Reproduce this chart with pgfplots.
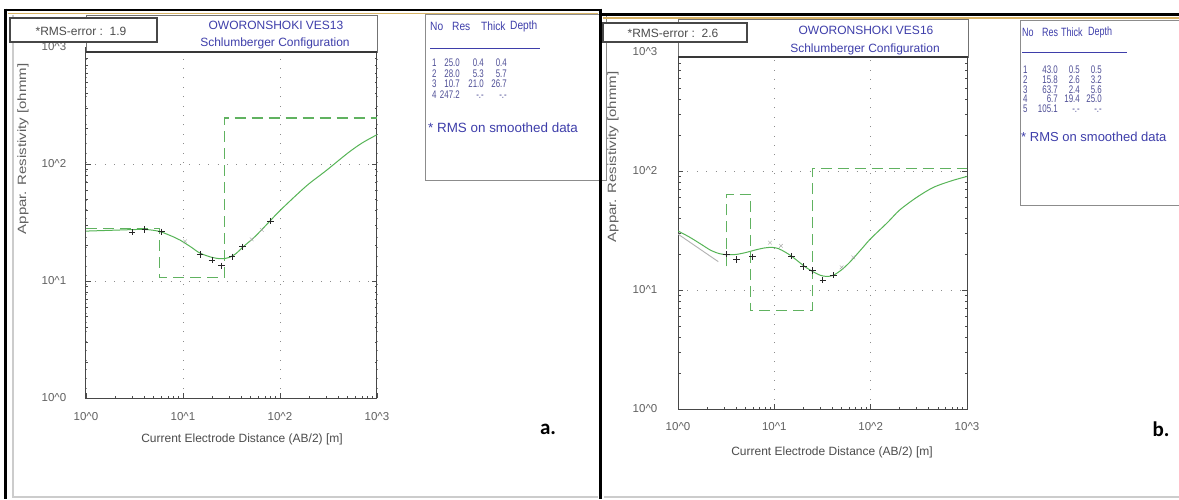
\documentclass[border=0pt]{standalone}
\usepackage{pgfplots}
\pgfplotsset{compat=1.18}
\usepackage{fontspec}
\setmainfont{Liberation Sans}
\newfontfamily\carl{Carlito}
\definecolor{cgreen}{RGB}{86,180,86}
\definecolor{mgreen}{RGB}{96,178,96}
\definecolor{tblue}{RGB}{62,62,170}
\definecolor{tabblue}{RGB}{78,78,150}
\definecolor{gold}{RGB}{215,178,100}
\newcommand{\fs}[1]{\fontsize{#1}{#1}\selectfont}
\newcommand{\tc}[1]{\scalebox{0.72}[1]{#1}}
\newcommand{\tha}[1]{\scalebox{0.85}[1]{#1}}
\newcommand{\thb}[1]{\scalebox{0.75}[1]{#1}}
\begin{document}
\begin{tikzpicture}
\path[use as bounding box, fill=white] (0pt,0pt) rectangle (1179pt,499pt);

% ---------------- panel a ----------------
\begin{axis}[
    anchor=south west, at={(86pt,101pt)}, scale only axis, width=291pt, height=351pt,
    xmode=log, ymode=log, xmin=1, xmax=1000, ymin=1, ymax=1000,
    xtick={1,10,100,1000}, ytick={1,10,100,1000},
    xticklabels={10\textasciicircum0,10\textasciicircum1,10\textasciicircum2,10\textasciicircum3},
    yticklabels={10\textasciicircum0,10\textasciicircum1,10\textasciicircum2,10\textasciicircum3},
    /pgf/number format/assume math mode=true,
    tick align=inside,
    major tick length=5pt, minor tick length=2.5pt,
    axis line style={draw=black!72, line width=1pt},
    tick style={black!70, line width=0.6pt},
    grid=major,
    major grid style={draw=black!45, line width=0.8pt, dash pattern=on 0.9pt off 8.5pt},
    tick label style={font=\fs{11.5}, text=black!62},
    xticklabel style={anchor=center, yshift=-19pt},
    yticklabel style={anchor=center, xshift=-32pt}]
\addplot[mgreen, line width=1.1pt, dash pattern=on 11pt off 6pt] coordinates
  {(1,28) (5.7,28) (5.7,10.7) (26.7,10.7) (26.7,247.2) (1000,247.2)};
\addplot[cgreen, line width=1pt, smooth] coordinates
  {(1,26.7) (2,27.2) (3,27.5) (4,27.6) (5,27.1) (6,26.2) (8,23.8) (9.3,22.4)
   (12,19.6) (15,17.3) (20,15.9) (25,15.5) (30,15.9) (35,17.1) (42,19.7)
   (53,23.2) (65,27.5) (80,33) (100,40) (150,55) (200,68) (300,88)
   (500,124) (700,151) (1000,178)};
\addplot[only marks, mark=x, mark size=2.6pt, black!35] coordinates
  {(10.5,21.8) (51,22.7) (65,27.3)};
\addplot[only marks, mark=+, mark size=3.2pt, black!85, line width=0.9pt] coordinates
  {(3.0,26.1) (4.05,27.6) (6.0,26.3) (15,16.9) (20,15.1) (25,13.5) (32,16.1) (41,19.6) (80,32.6)};
\end{axis}

% ---------------- panel b ----------------
\begin{axis}[
    anchor=south west, at={(678pt,90pt)}, scale only axis, width=289pt, height=357pt,
    xmode=log, ymode=log, xmin=1, xmax=1000, ymin=1, ymax=1000,
    xtick={1,10,100,1000}, ytick={1,10,100,1000},
    xticklabels={10\textasciicircum0,10\textasciicircum1,10\textasciicircum2,10\textasciicircum3},
    yticklabels={10\textasciicircum0,10\textasciicircum1,10\textasciicircum2,10\textasciicircum3},
    /pgf/number format/assume math mode=true,
    tick align=inside,
    major tick length=5pt, minor tick length=2.5pt,
    axis line style={draw=black!72, line width=1pt},
    tick style={black!70, line width=0.6pt},
    grid=major,
    major grid style={draw=black!45, line width=0.8pt, dash pattern=on 0.9pt off 8.5pt},
    tick label style={font=\fs{11.5}, text=black!62},
    xticklabel style={anchor=center, yshift=-18pt},
    yticklabel style={anchor=center, xshift=-33pt}]
\addplot[mgreen, line width=1.1pt, dash pattern=on 11pt off 6pt] coordinates
  {(3.2,15.8) (3.2,63.7) (5.6,63.7) (5.6,6.7) (25,6.7) (25,105.1) (1000,105.1)};
\addplot[black!30, line width=0.9pt] coordinates
  {(1,29.5) (2.62,17.3)};
\addplot[cgreen, line width=1pt, smooth] coordinates
  {(1,31.3) (1.3,28) (1.7,24.5) (2.2,21.5) (2.7,20.2) (3.2,19.8) (4,19.9)
   (5,20.6) (6.5,21.8) (8,22.6) (9.5,22.8) (11,22.3) (13,20.8) (15,19.3)
   (18,17.2) (21,15.6) (25,14.3) (30,13.3) (35,13.0) (41,13.3) (50,14.8)
   (61,17.2) (80,22) (100,27) (150,37) (200,47) (300,60) (450,73) (700,83) (1000,90)};
\addplot[only marks, mark=x, mark size=2.6pt, black!35] coordinates
  {(9.0,25.0) (11.7,23.5) (50,15.5) (66,18.8)};
\addplot[only marks, mark=+, mark size=3.2pt, black!85, line width=0.9pt] coordinates
  {(3.2,20) (4.05,18.1) (5.95,19.0) (15,19.3) (20,15.7) (25,14.6) (31.8,12.1) (41,13.3)};
\end{axis}

% ---------------- decorations (pixel coordinates, y down) ----------------
\begin{scope}[x=1pt, y=-1pt, shift={(0pt,499pt)}]
  \draw[black!20, line width=1.5pt] (13,15) -- (13,497) -- (598,497);
  \draw[black!20, line width=1.5pt] (604,497) -- (1179,497);
  % panel a title & RMS
  \draw[black!55, line width=0.8pt, fill=white] (86,15) rectangle (377,52);
  \draw[black!78, line width=1.3pt] (86,52) -- (377,52);
  \node[text=tblue, font=\fs{12}] at (276,25) {OWORONSHOKI VES13};
  \node[text=tblue, font=\fs{12}] at (275,43) {Schlumberger Configuration};
  \draw[black!72, line width=1.3pt, fill=white] (10,18) rectangle (157,42);
  \node[text=black!70, font=\fs{12}] at (81,31) {*RMS-error :\ \ 1.9};
  \node[rotate=90, text=black!62, font=\fs{12}] at (23,149) {\scalebox{1.25}[1]{Appar. Resistivity [ohmm]}};
  \node[text=black!70, font=\fs{12}] at (242,439) {Current Electrode Distance (AB/2) [m]};
  \node[font=\carl\bfseries\fs{21}] at (548,429) {a.};
  % panel a table
  \draw[black!45, line width=0.8pt, fill=white] (425,14) rectangle (606,180);
  \begin{scope}[every node/.style={text=tblue, font=\fs{12}, inner sep=0pt}]
    \node[anchor=west] at (430,26) {\tha{No}};
    \node[anchor=west] at (452,26) {\tha{Res}};
    \node[anchor=west] at (481,26) {\tha{Thick}};
    \node[anchor=west] at (510,26) {\tha{Depth}};
  \end{scope}
  \draw[tblue, line width=0.7pt] (430,48) -- (540,48);
  \begin{scope}[every node/.style={text=tabblue, font=\fs{11}, inner sep=0pt, text height=7.6pt, text depth=0pt}]
    \node[anchor=west] at (432,63) {\tc{1}}; \node[anchor=east] at (460,63) {\tc{25.0}};
    \node[anchor=east] at (484,63) {\tc{0.4}}; \node[anchor=east] at (507,63) {\tc{0.4}};
    \node[anchor=west] at (432,73.5) {\tc{2}}; \node[anchor=east] at (460,73.5) {\tc{28.0}};
    \node[anchor=east] at (484,73.5) {\tc{5.3}}; \node[anchor=east] at (507,73.5) {\tc{5.7}};
    \node[anchor=west] at (432,84) {\tc{3}}; \node[anchor=east] at (460,84) {\tc{10.7}};
    \node[anchor=east] at (484,84) {\tc{21.0}}; \node[anchor=east] at (507,84) {\tc{26.7}};
    \node[anchor=west] at (432,94.5) {\tc{4}}; \node[anchor=east] at (460,94.5) {\tc{247.2}};
    \node[anchor=east] at (484,94.5) {\tc{-.-}}; \node[anchor=east] at (507,94.5) {\tc{-.-}};
  \end{scope}
  \node[anchor=west, text=tblue, font=\fs{13.4}, inner sep=0pt] at (428,128) {* RMS on smoothed data};

  % panel b title & RMS
  \draw[black!55, line width=0.8pt, fill=white] (678,19) rectangle (968,57);
  \draw[black!78, line width=1.3pt] (678,57) -- (968,57);
  \node[text=tblue, font=\fs{12}] at (866,30) {OWORONSHOKI VES16};
  \node[text=tblue, font=\fs{12}] at (865,49) {Schlumberger Configuration};
  \draw[black!72, line width=1.3pt, fill=white] (603,23) rectangle (747,42);
  \node[text=black!70, font=\fs{12}] at (673,33) {*RMS-error :\ \ 2.6};
  \node[rotate=90, text=black!62, font=\fs{12}] at (613,157) {\scalebox{1.25}[1]{Appar. Resistivity [ohmm]}};
  \node[text=black!70, font=\fs{12}] at (832,452) {Current Electrode Distance (AB/2) [m]};
  \node[font=\carl\bfseries\fs{21}] at (1161,429) {b.};
  % panel b table
  \draw[black!45, line width=0.8pt, fill=white] (1020,20) rectangle (1185,205);
  \begin{scope}[every node/.style={text=tblue, font=\fs{12}, inner sep=0pt}]
    \node[anchor=west] at (1022,32) {\thb{No}};
    \node[anchor=west] at (1042,32) {\thb{Res}};
    \node[anchor=west] at (1061,32) {\thb{Thick}};
    \node[anchor=west] at (1088,32) {\thb{Depth}};
  \end{scope}
  \draw[tblue, line width=0.7pt] (1022,52) -- (1127,52);
  \begin{scope}[every node/.style={text=tabblue, font=\fs{11}, inner sep=0pt, text height=7.6pt, text depth=0pt}]
    \node[anchor=west] at (1023,70) {\tc{1}}; \node[anchor=east] at (1058,70) {\tc{43.0}};
    \node[anchor=east] at (1080,70) {\tc{0.5}}; \node[anchor=east] at (1102,70) {\tc{0.5}};
    \node[anchor=west] at (1023,79.7) {\tc{2}}; \node[anchor=east] at (1058,79.7) {\tc{15.8}};
    \node[anchor=east] at (1080,79.7) {\tc{2.6}}; \node[anchor=east] at (1102,79.7) {\tc{3.2}};
    \node[anchor=west] at (1023,89.3) {\tc{3}}; \node[anchor=east] at (1058,89.3) {\tc{63.7}};
    \node[anchor=east] at (1080,89.3) {\tc{2.4}}; \node[anchor=east] at (1102,89.3) {\tc{5.6}};
    \node[anchor=west] at (1023,99) {\tc{4}}; \node[anchor=east] at (1058,99) {\tc{6.7}};
    \node[anchor=east] at (1080,99) {\tc{19.4}}; \node[anchor=east] at (1102,99) {\tc{25.0}};
    \node[anchor=west] at (1023,108.7) {\tc{5}}; \node[anchor=east] at (1058,108.7) {\tc{105.1}};
    \node[anchor=east] at (1080,108.7) {\tc{-.-}}; \node[anchor=east] at (1102,108.7) {\tc{-.-}};
  \end{scope}
  \node[anchor=west, text=tblue, font=\fs{13}, inner sep=0pt] at (1021,137) {* RMS on smoothed data};

  % outer frames
  \draw[gold, line width=1.8pt] (8,13.5) -- (598,13.5);
  \draw[gold, line width=1.8pt] (603,18) -- (1179,18);
  \draw[black, line width=2.6pt] (4,10) -- (601,10);
  \draw[black, line width=2.6pt] (600,14.5) -- (1179,14.5);
  \draw[black, line width=3pt] (5.5,8.7) -- (5.5,499);
  \draw[black, line width=3.2pt] (600.5,8.7) -- (600.5,499);
\end{scope}
\end{tikzpicture}
\end{document}
